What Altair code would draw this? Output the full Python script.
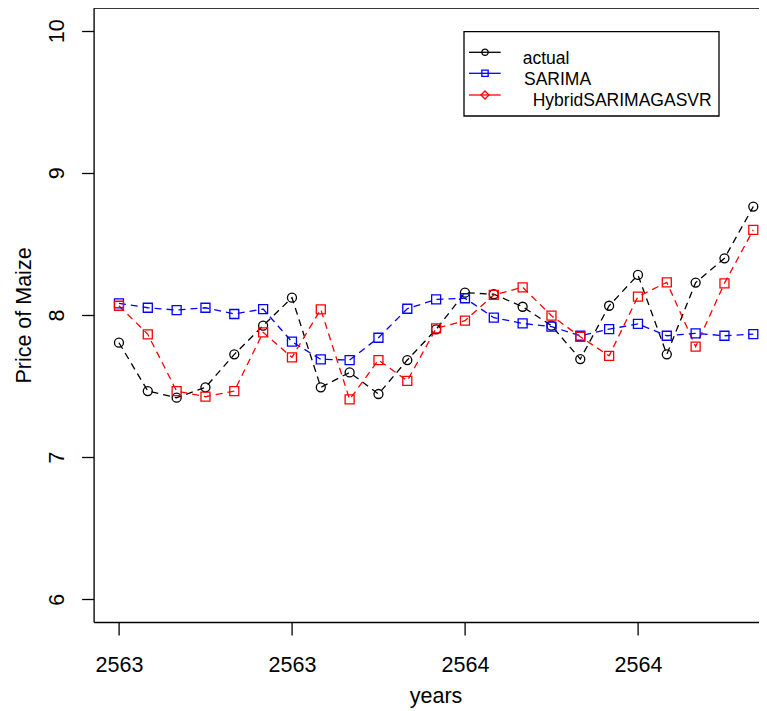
import altair as alt
import pandas as pd

# ---------------- data ----------------
months = list(range(23))
years = [2563 + m / 12 for m in months]

actual = [7.805, 7.465, 7.418, 7.491, 7.723, 7.925, 8.122, 7.491, 7.596, 7.444,
          7.683, 7.899, 8.157, 8.146, 8.058, 7.925, 7.690, 8.065, 8.282, 7.723,
          8.228, 8.399, 8.763]
sarima = [8.082, 8.051, 8.035, 8.051, 8.007, 8.042, 7.812, 7.688, 7.683, 7.840,
          8.044, 8.110, 8.118, 7.981, 7.941, 7.918, 7.854, 7.901, 7.937, 7.854,
          7.871, 7.854, 7.866]
hybrid = [8.065, 7.864, 7.465, 7.425, 7.465, 7.878, 7.702, 8.040, 7.406, 7.683,
          7.537, 7.906, 7.960, 8.141, 8.195, 7.995, 7.847, 7.713, 8.129, 8.230,
          7.777, 8.223, 8.599]

series_names = ["actual", "SARIMA", "HybridSARIMAGASVR"]
legend_labels = ["actual", "SARIMA", "HybridSARIMAGASVR"]
colors = ["black", "blue", "red"]
plot_shapes = ["circle", "square", "square"]
legend_shapes = ["circle", "square", "diamond"]
x_ticks = [2563, 2563.5, 2564, 2564.5]
y_ticks = [6, 7, 8, 9, 10]

df = pd.DataFrame({
    "year": years * 3,
    "price": actual + sarima + hybrid,
    "series": [series_names[0]] * 23 + [series_names[1]] * 23 + [series_names[2]] * 23,
    "order": [0] * 23 + [1] * 23 + [2] * 23,
})

# ---------------- layout ----------------
PAD_L = 85.6
W, H = 751 - PAD_L, 614
FONT = "Liberation Sans"
AX = 21.5
PX_PER_YEAR = 346.0
X0 = 2562.9267

xs = alt.Scale(domain=[X0, X0 + W / PX_PER_YEAR], nice=False, zero=False)
ys = alt.Scale(domain=[5.84, 10.16], nice=False, zero=False)

x_axis = alt.Axis(values=x_ticks, labelExpr="floor(datum.value)", title="years",
                  domain=True, domainColor="black", domainWidth=1.3,
                  grid=False, tickColor="black", tickSize=13, tickWidth=1.3,
                  labelFont=FONT, labelFontSize=AX, labelColor="black",
                  labelBaseline="alphabetic", labelPadding=36, labelOverlap=False,
                  labelFlush=False,
                  titleFont=FONT, titleFontSize=AX, titleFontWeight="normal",
                  titleColor="black", titleBaseline="alphabetic", titleAlign="center",
                  titleX=435.5 - 93.6, titleY=80)
y_axis = alt.Axis(values=y_ticks, title="Price of Maize",
                  domain=True, domainColor="black", domainWidth=1.3,
                  grid=False, tickColor="black", tickSize=12, tickWidth=1.3,
                  labelFont=FONT, labelFontSize=AX, labelColor="black",
                  labelAngle=270, labelAlign="center", labelBaseline="alphabetic",
                  labelPadding=18.3, labelOverlap=False, labelFlush=False,
                  titleFont=FONT, titleFontSize=AX, titleFontWeight="normal",
                  titleColor="black", titleAngle=270, titleBaseline="alphabetic",
                  titleAlign="center", titleX=-63.6, titleY=H / 2)

color = alt.Color("series:N", scale=alt.Scale(domain=series_names, range=colors), legend=None)

base = alt.Chart(df).encode(
    x=alt.X("year:Q", scale=xs, axis=x_axis),
    y=alt.Y("price:Q", scale=ys, axis=y_axis),
    color=color,
    order=alt.Order("order:Q"),
)

lines = base.mark_line(strokeDash=[7, 5], strokeWidth=1.3)
points = base.mark_point(filled=False, size=81, strokeWidth=1.3, opacity=1).encode(
    shape=alt.Shape("series:N", scale=alt.Scale(domain=series_names, range=plot_shapes), legend=None)
)

one = pd.DataFrame({"k": [0]})
# top border of the box (right border lies beyond the picture in the reference)
top_border = alt.Chart(one).mark_rule(color="black", strokeWidth=1.3).encode(
    x=alt.value(0), x2=alt.value(W), y=alt.value(0)
)

# ---------------- legend (drawn by hand, R style) ----------------
box = alt.Chart(one).mark_rect(fill="white", stroke="black", strokeWidth=1.3).encode(
    x=alt.value(370.4), x2=alt.value(625.4), y=alt.value(23.7), y2=alt.value(108)
)

line_y = [44.3, 65.3, 87.0]
text_x = [429.1, 430.4, 439.1]
text_y = [55.5, 76.5, 98.0]
sym_size = [40, 40, 64]

legend_layers = []
for i in range(3):
    d = pd.DataFrame({"label": [legend_labels[i]]})
    legend_layers.append(
        alt.Chart(d).mark_rule(color=colors[i], strokeWidth=1.3).encode(
            x=alt.value(375.4), x2=alt.value(407.1), y=alt.value(line_y[i]))
    )
    legend_layers.append(
        alt.Chart(d).mark_point(shape=legend_shapes[i], filled=False, color=colors[i],
                                size=sym_size[i], strokeWidth=1.3, opacity=1).encode(
            x=alt.value(391.4), y=alt.value(line_y[i]))
    )
    legend_layers.append(
        alt.Chart(d).mark_text(align="left", baseline="alphabetic", font=FONT,
                               fontSize=17.5, color="black").encode(
            x=alt.value(text_x[i]), y=alt.value(text_y[i]), text="label:N")
    )

chart = alt.layer(lines, points, top_border, box, *legend_layers).properties(
    width=W, height=H,
    padding={"left": PAD_L, "top": 0, "right": 0, "bottom": 87},
    autosize=alt.AutoSizeParams(type="none"),
).configure_view(stroke=None).configure(background="white")

chart.save("out.html", embed_options={"renderer": "svg", "actions": False})
